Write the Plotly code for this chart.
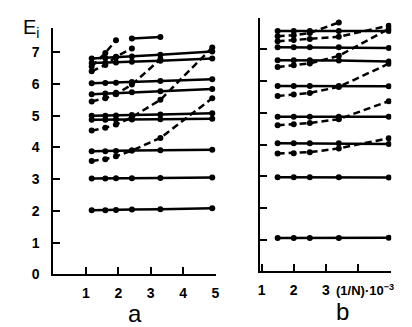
import plotly.graph_objects as go
from plotly.subplots import make_subplots

# x positions of the points, (1/N)*10^3
xa = [1.18, 1.6, 1.93, 2.42, 3.3, 4.9]
xb = [1.5, 2.0, 2.5, 3.4, 4.95]

# panel a, solid levels
a_solid = [
    [2.02, 2.02, 2.03, 2.04, 2.05, 2.08],
    [3.02, 3.02, 3.03, 3.03, 3.04, 3.05],
    [3.88, 3.88, 3.89, 3.90, 3.91, 3.93],
    [4.87, 4.87, 4.88, 4.88, 4.89, 4.90],
    [5.00, 5.00, 5.01, 5.02, 5.04, 5.08],
    [5.68, 5.70, 5.72, 5.74, 5.77, 5.84],
    [6.02, 6.03, 6.04, 6.06, 6.09, 6.15],
    [6.66, 6.67, 6.68, 6.70, 6.73, 6.80],
    [6.80, 6.82, 6.84, 6.87, 6.92, 7.02],
]
a_short_x = [2.42, 3.3]
a_short_y = [7.43, 7.48]

# panel a, dashed levels (some stop early)
a_dash = [
    [3.57, 3.63, 3.72, 3.90, 4.30, 5.55],
    [4.53, 4.62, 4.72, 4.95, 5.50, 7.15],
    [5.45, 5.55, 5.68, 5.98, 6.78],
    [6.40, 6.60, 6.86, 7.12],
    [6.55, 6.98, 7.38],
]

# panel b
b_solid = [
    [1.05, 1.05, 1.05, 1.05, 1.06],
    [2.97, 2.97, 2.97, 2.97, 2.96],
    [4.04, 4.04, 4.04, 4.04, 4.02],
    [4.88, 4.88, 4.88, 4.88, 4.88],
    [5.85, 5.85, 5.85, 5.85, 5.84],
    [6.66, 6.66, 6.66, 6.65, 6.62],
    [7.07, 7.07, 7.07, 7.07, 7.05],
    [7.58, 7.58, 7.58, 7.58, 7.58],
]
b_dash = [
    [3.72, 3.73, 3.76, 3.88, 4.20],
    [4.61, 4.64, 4.68, 4.80, 5.37],
    [5.53, 5.58, 5.63, 5.82, 6.55],
    [6.45, 6.50, 6.56, 6.80, 7.65],
    [7.26, 7.30, 7.33, 7.40, 7.75],
    [7.42, 7.45, 7.52, 7.85],
]

W, H = 412, 327
fig = make_subplots(rows=1, cols=2)


def add_line(xs, ys, col, dashed=False):
    fig.add_trace(
        go.Scatter(x=xs[:len(ys)], y=ys, mode="lines+markers",
                   line=dict(color="black", width=2.5,
                             dash="7px,4px" if dashed else "solid"),
                   marker=dict(color="black", size=6),
                   showlegend=False, hoverinfo="skip"),
        row=1, col=col)


for ys in a_solid:
    add_line(xa, ys, 1)
add_line(a_short_x, a_short_y, 1)
for ys in a_dash:
    add_line(xa, ys, 1, dashed=True)
for ys in b_solid:
    add_line(xb, ys, 2)
for ys in b_dash:
    add_line(xb, ys, 2, dashed=True)

axis_common = dict(showline=True, linecolor="black", linewidth=2,
                   ticks="inside", ticklen=7, tickwidth=2, tickcolor="black",
                   showgrid=False, zeroline=False,
                   tickfont=dict(family="Liberation Sans", size=14,
                                 color="black", weight="bold"))

fig.update_layout(
    width=W, height=H, autosize=False,
    margin=dict(l=0, r=0, t=0, b=0),
    plot_bgcolor="white", paper_bgcolor="white",
    xaxis=dict(axis_common, domain=[44 / W, 209 / W], range=[0, 5.03],
               tickvals=[1, 2, 3, 4, 5], ticklabelstandoff=5,
               anchor="y"),
    yaxis=dict(axis_common, domain=[1 - 273 / H, 1 - 20 / H],
               range=[0, 7.78], tickvals=[0, 1, 2, 3, 4, 5, 6, 7],
               ticklabelstandoff=9, anchor="x"),
    xaxis2=dict(axis_common, domain=[253 / W, 386 / W], range=[0.95, 5.03],
                tickvals=[1, 2, 3, 4, 5], ticktext=["1", "2", "3", "", ""],
                ticklabelstandoff=5, anchor="y2"),
    yaxis2=dict(axis_common, domain=[1 - 270 / H, 1 - 10 / H],
                range=[0, 8.0], tickvals=[1, 2, 3, 4, 5, 6, 7],
                showticklabels=False, anchor="x2"),
)

txt = dict(family="Liberation Sans", color="black")
fig.add_annotation(x=328 / W, y=1 - 289 / H, xref="paper", yref="paper",
                   xanchor="left", yanchor="middle", showarrow=False,
                   text="(1/N)·10<sup>−3</sup>",
                   font=dict(txt, size=13, weight="bold"))
fig.add_annotation(x=127 / W, y=1 - 313 / H, xref="paper", yref="paper",
                   xanchor="center", yanchor="middle",
                   showarrow=False, text="a", font=dict(txt, size=24))
fig.add_annotation(x=337 / W, y=1 - 311 / H, xref="paper", yref="paper",
                   xanchor="center", yanchor="middle",
                   showarrow=False, text="b", font=dict(txt, size=24))
fig.add_annotation(x=11 / W, y=1 - 21 / H, xref="paper", yref="paper",
                   xanchor="left", yanchor="middle", showarrow=False,
                   text="E<sub>i</sub>", font=dict(txt, size=20))

fig.write_html("out.html")
